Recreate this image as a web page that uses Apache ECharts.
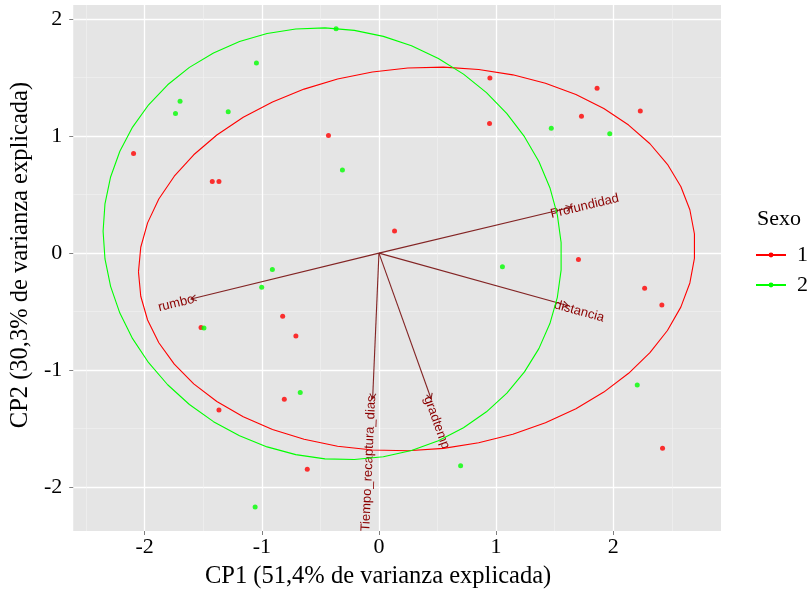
<!DOCTYPE html>
<html>
<head>
<meta charset="utf-8">
<script src="https://cdn.jsdelivr.net/npm/echarts@6/dist/echarts.min.js"></script>
<style>html,body{margin:0;padding:0;background:#fff}#c{width:809px;height:594px}</style>
</head>
<body>
<div id="c"></div>
<script>
// ---- data ----
const sex1X = [-2.095,-0.431,-1.423,-1.366,0.133,0.947,0.944,1.862,1.729,2.231,1.703,-1.519,-0.822,-0.709,-0.808,-1.366,-0.612,2.268,2.415,2.421];
const sex1Y = [0.852,1.005,0.611,0.611,0.190,1.496,1.107,1.408,1.170,1.215,-0.054,-0.636,-0.539,-0.707,-1.249,-1.340,-1.846,-0.301,-0.443,-1.667];
const sex2X = [-0.366,-1.046,-1.698,-1.737,-1.287,-0.312,1.471,1.970,1.054,-0.910,-1.001,-1.494,-0.672,-1.057,2.205,0.697];
const sex2Y = [1.917,1.624,1.297,1.193,1.207,0.710,1.068,1.019,-0.116,-0.139,-0.292,-0.639,-1.190,-2.169,-1.127,-1.817];

const varNames = ['Profundidad','distancia','gradtemp','Tiempo_recaptura_dias','rumbo'];
const varX = [1.641, 1.616, 0.445, -0.054, -1.604];
const varY = [0.392, -0.449, -1.244, -1.244, -0.392];
const varLabelX = [1.756, 1.709, 0.493, -0.088, -1.731];
const varLabelY = [0.400, -0.498, -1.448, -1.797, -0.430];

// ellipse shape: centre, x half-width, y offset at x-extreme, y half-span of sine part
const ell1 = {cx: 0.3225, cy: -0.05, a: 2.3755, b: 0.11, c: 1.636};
const ell2 = {cx: -0.398, cy: 0.08, a: 1.957, b: -0.107, c: 1.842};

const groupNames = ['1','2'];
const xTicks = [-2,-1,0,1,2];
const yTicks = [-2,-1,0,1,2];
const xMinor = [-2.5,-1.5,-0.5,0.5,1.5,2.5];
const yMinor = [-1.5,-0.5,0.5,1.5];
const xTitle = 'CP1 (51,4% de varianza explicada)';
const yTitle = 'CP2 (30,3% de varianza explicada)';
const legendTitle = 'Sexo';

// ---- build ----
function ellPath(e){
  const pts=[]; const n=50;
  for(let i=0;i<n;i++){
    const t=-Math.PI+2*Math.PI*i/(n-1);
    pts.push([e.cx+e.a*Math.cos(t), e.cy+e.b*Math.cos(t)+e.c*Math.sin(t)]);
  }
  return pts;
}
const zip=(xs,ys)=>xs.map((x,i)=>[x,ys[i]]);
const RED='#FF0000', GREEN='#00FF00';
const SERIF='"Liberation Serif", "Times New Roman", serif';
const XMIN=-2.61, XMAX=2.92, YMIN=-2.374, YMAX=2.12;

const chart = echarts.init(document.getElementById('c'), null, {renderer:'canvas'});
const majorAxis = (ticks, name, isX) => ({
  type:'value', min: isX?XMIN:YMIN, max: isX?XMAX:YMAX,
  axisLine:{show:false, onZero:false},
  axisTick:{show:true, length:4, customValues: ticks, lineStyle:{color:'#7f7f7f', width:1}},
  axisLabel:{customValues: ticks, fontFamily:SERIF, fontSize:22, color:'#000', margin: isX?5:11},
  splitLine:{show:true, lineStyle:{color:'#ffffff', width:1.3}},
  name: name, nameLocation:'middle', nameGap: isX?33:39,
  nameTextStyle:{fontFamily:SERIF, fontSize:24.5, color:'#000', padding: isX?[0,38,0,0]:[0,0,0,26]}
});
const minorAxis = (ticks, isX) => ({
  type:'value', min: isX?XMIN:YMIN, max: isX?XMAX:YMAX,
  axisLine:{show:false, onZero:false}, axisTick:{show:false, customValues: ticks},
  axisLabel:{show:false, customValues: ticks},
  splitLine:{show:true, lineStyle:{color:'#F2F2F2', width:0.6}}
});

const arrowData = varNames.map((n,i)=>[varX[i], varY[i], varLabelX[i], varLabelY[i], i]);

chart.setOption({
  animation:false,
  backgroundColor:'#ffffff',
  grid:{left:70, right:88, top:5, bottom:61, show:true, backgroundColor:'#E5E5E5', borderWidth:0, containLabel:false},
  title:{text:legendTitle, left:757, top:208, padding:0, textStyle:{fontFamily:SERIF, fontSize:22, fontWeight:'normal', color:'#000'}},
  legend:{data:groupNames, orient:'vertical', left:755, top:244, itemWidth:30, itemHeight:6, itemGap:8, padding:0,
    textStyle:{fontFamily:SERIF, fontSize:22, color:'#000', padding:[0,0,0,6]}},
  xAxis:[majorAxis(xTicks, xTitle, true), minorAxis(xMinor, true)],
  yAxis:[majorAxis(yTicks, yTitle, false), minorAxis(yMinor, false)],
  series:[
    {type:'line', name:groupNames[0], data: ellPath(ell1), showSymbol:false, symbol:'circle', z:4,
      lineStyle:{color:RED, width:1.1}, itemStyle:{color:RED}, silent:true},
    {type:'line', name:groupNames[1], data: ellPath(ell2), showSymbol:false, symbol:'circle', z:4,
      lineStyle:{color:GREEN, width:1.1}, itemStyle:{color:GREEN}, silent:true},
    {type:'custom', name:'vars', data: arrowData, z:2, clip:false,
      renderItem:function(params, api){
        const o=api.coord([0,0]);
        const e=api.coord([api.value(0), api.value(1)]);
        const l=api.coord([api.value(2), api.value(3)]);
        const dx=e[0]-o[0], dy=e[1]-o[1];
        const ang=Math.atan2(dy,dx);
        const hl=6, ha=Math.PI/6;
        const h1=[e[0]-hl*Math.cos(ang-ha), e[1]-hl*Math.sin(ang-ha)];
        const h2=[e[0]-hl*Math.cos(ang+ha), e[1]-hl*Math.sin(ang+ha)];
        const rot=Math.atan(-dy/dx);
        const st={stroke:'#832424', lineWidth:1.1};
        return {type:'group', children:[
          {type:'line', shape:{x1:o[0],y1:o[1],x2:e[0],y2:e[1]}, style:st},
          {type:'polyline', shape:{points:[h1,e,h2]}, style:{stroke:'#832424', lineWidth:1.1, fill:null}},
          {type:'text', x:l[0], y:l[1], rotation:rot, z2:10,
            style:{text: varNames[api.value(4)], x:0, y:0, align:'center', verticalAlign:'middle',
              fill:'#8B0000', fontSize:13, fontFamily:'"Liberation Sans", Arial, sans-serif'}}
        ]};
      }},
    {type:'scatter', name:groupNames[0], data: zip(sex1X, sex1Y), symbol:'circle', symbolSize:5, z:3,
      itemStyle:{color:RED}},
    {type:'scatter', name:groupNames[1], data: zip(sex2X, sex2Y), symbol:'circle', symbolSize:5, z:3,
      itemStyle:{color:GREEN}}
  ]
});
</script>
</body>
</html>
